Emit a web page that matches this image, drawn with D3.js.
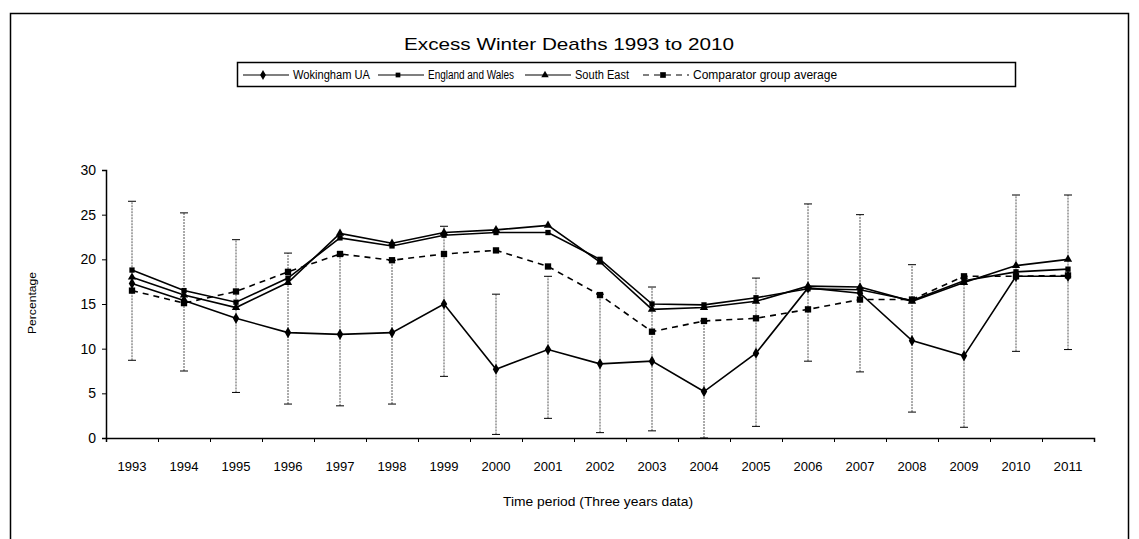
<!DOCTYPE html>
<html>
<head>
<meta charset="utf-8">
<script src="https://cdn.jsdelivr.net/npm/d3@7"></script>
<style>
  body { margin: 0; background: #fff; }
  text { font-family: "Liberation Sans", Arial, sans-serif; fill: #000; }
</style>
</head>
<body>
<div id="chart"></div>
<script>
// categories and values
var years = ["1993","1994","1995","1996","1997","1998","1999","2000","2001","2002",
             "2003","2004","2005","2006","2007","2008","2009","2010","2011"];
var wokingham    = [17.3,15.4,13.4,11.8,11.6,11.8,15.0,7.7,9.9,8.3,8.6,5.2,9.5,16.8,16.2,10.9,9.2,18.1,18.1];
var englandWales = [18.8,16.5,15.2,17.9,22.4,21.5,22.7,23.0,23.0,20.0,15.0,14.9,15.7,16.7,16.6,15.4,17.6,18.6,18.9];
var southEast    = [18.0,16.0,14.6,17.4,22.9,21.8,23.0,23.3,23.8,19.7,14.4,14.6,15.3,17.0,16.9,15.3,17.4,19.3,20.0];
var comparator   = [16.5,15.1,16.4,18.6,20.6,19.9,20.6,21.0,19.2,16.0,11.9,13.1,13.4,14.4,15.5,15.5,18.1,18.1,18.2];
// Wokingham confidence interval
var wokLower = [8.7,7.5,5.1,3.8,3.6,3.8,6.9,0.4,2.2,0.6,0.8,0,1.3,8.6,7.4,2.9,1.2,9.7,9.9];
var wokUpper = [26.5,25.2,22.2,20.7,20.4,19.9,23.7,16.1,18.1,16.1,16.9,13.1,17.9,26.2,25.0,19.4,17.9,27.2,27.2];
var yTicks = [0,5,10,15,20,25,30];

var seriesNames = ["Wokingham UA","England and Wales","South East","Comparator group average"];

var width = 1139, height = 539;

var svg = d3.select("#chart")
  .append("svg")
    .attr("width", width)
    .attr("height", height);

// outer frame
svg.append("rect")
  .attr("x", 10.5).attr("y", 13.5)
  .attr("width", 1118).attr("height", 560)
  .attr("fill", "none").attr("stroke", "#000").attr("stroke-width", 1.5);

// title
svg.append("text")
  .attr("x", 569).attr("y", 50)
  .attr("text-anchor", "middle")
  .attr("font-size", 17)
  .attr("textLength", 330).attr("lengthAdjust", "spacingAndGlyphs")
  .text("Excess Winter Deaths 1993 to 2010");

// scales
var x = d3.scaleBand().domain(years).range([106, 1094]);
var xEdge = d3.scaleLinear().domain([0, years.length]).range([106, 1094]);
var y = d3.scaleLinear().domain([0, 30]).range([438, 170]);
var cx = function(i) { return x(years[i]) + x.bandwidth() / 2; };

// Y axis
svg.append("g")
  .attr("transform", "translate(106,0)")
  .call(d3.axisLeft(y).tickValues(yTicks).tickSize(4).tickPadding(6))
  .call(function(g) {
    g.select(".domain").attr("stroke", "#000").attr("stroke-width", 1.5);
    g.selectAll("text").attr("font-size", 14).attr("font-family", "Liberation Sans, Arial, sans-serif");
  });

// X axis: ticks between categories
svg.append("g")
  .attr("transform", "translate(0,438)")
  .call(d3.axisBottom(xEdge).tickValues(d3.range(years.length + 1)).tickSize(4).tickFormat(""))
  .call(function(g) {
    g.select(".domain").attr("stroke", "#000").attr("stroke-width", 1.5);
  });
svg.append("g")
  .attr("transform", "translate(0,438)")
  .call(d3.axisBottom(x).tickSize(0).tickPadding(24))
  .call(function(g) {
    g.select(".domain").remove();
    g.selectAll("text").attr("font-size", 13).attr("font-family", "Liberation Sans, Arial, sans-serif")
      .attr("textLength", 29).attr("lengthAdjust", "spacingAndGlyphs");
  });

// axis titles
svg.append("text")
  .attr("x", 598).attr("y", 506)
  .attr("text-anchor", "middle")
  .attr("font-size", 13)
  .attr("textLength", 190).attr("lengthAdjust", "spacingAndGlyphs")
  .text("Time period (Three years data)");
svg.append("text")
  .attr("transform", "translate(36,303) rotate(-90)")
  .attr("text-anchor", "middle")
  .attr("font-size", 11)
  .attr("textLength", 62).attr("lengthAdjust", "spacingAndGlyphs")
  .text("Percentage");

// error bars for Wokingham
var eb = svg.append("g").attr("stroke", "#555").attr("stroke-width", 1);
years.forEach(function(d, i) {
  eb.append("line")
    .attr("x1", cx(i)).attr("x2", cx(i))
    .attr("y1", y(wokLower[i])).attr("y2", y(wokUpper[i]))
    .attr("stroke-dasharray", "2,1");
  [wokLower[i], wokUpper[i]].forEach(function(v) {
    eb.append("line")
      .attr("x1", cx(i) - 4).attr("x2", cx(i) + 4)
      .attr("y1", y(v)).attr("y2", y(v))
      .attr("stroke", "#000");
  });
});

var line = d3.line()
  .x(function(d, i) { return cx(i); })
  .y(function(d) { return y(d); });

var series = [
  {name: seriesNames[0], values: wokingham,    dash: null,  symbol: d3.symbolDiamond,  size: 36},
  {name: seriesNames[1], values: englandWales, dash: null,  symbol: d3.symbolSquare,   size: 28},
  {name: seriesNames[2], values: southEast,    dash: null,  symbol: d3.symbolTriangle, size: 30},
  {name: seriesNames[3], values: comparator,   dash: "6,5", symbol: d3.symbolSquare,   size: 40}
];

series.forEach(function(s) {
  svg.append("path")
    .datum(s.values)
    .attr("d", line)
    .attr("fill", "none")
    .attr("stroke", "#000")
    .attr("stroke-width", 1.6)
    .attr("stroke-dasharray", s.dash);
  svg.append("g").selectAll("path")
    .data(s.values)
    .enter().append("path")
      .attr("transform", function(d, i) { return "translate(" + cx(i) + "," + y(d) + ")"; })
      .attr("d", d3.symbol().type(s.symbol).size(s.size))
      .attr("fill", "#000");
});

// legend
var legend = svg.append("g");
legend.append("rect")
  .attr("x", 237.5).attr("y", 62.5)
  .attr("width", 778).attr("height", 24)
  .attr("fill", "#fff").attr("stroke", "#000").attr("stroke-width", 1.5);

var legendX = [243, 378, 525, 643];
var legendW = [77, 86, 54, 318];
series.forEach(function(s, i) {
  var lx = legendX[i];
  legend.append("line")
    .attr("x1", lx).attr("x2", lx + 46)
    .attr("y1", 75).attr("y2", 75)
    .attr("stroke", "#000").attr("stroke-width", 1.2)
    .attr("stroke-dasharray", s.dash);
  legend.append("path")
    .attr("transform", "translate(" + (lx + 20) + ",75)")
    .attr("d", d3.symbol().type(s.symbol).size(s.size * 0.8))
    .attr("fill", "#000");
  legend.append("text")
    .attr("x", lx + 50).attr("y", 79)
    .attr("font-size", 12)
    .attr("textLength", i === 3 ? null : legendW[i])
    .attr("lengthAdjust", "spacingAndGlyphs")
    .text(s.name);
});
</script>
</body>
</html>
